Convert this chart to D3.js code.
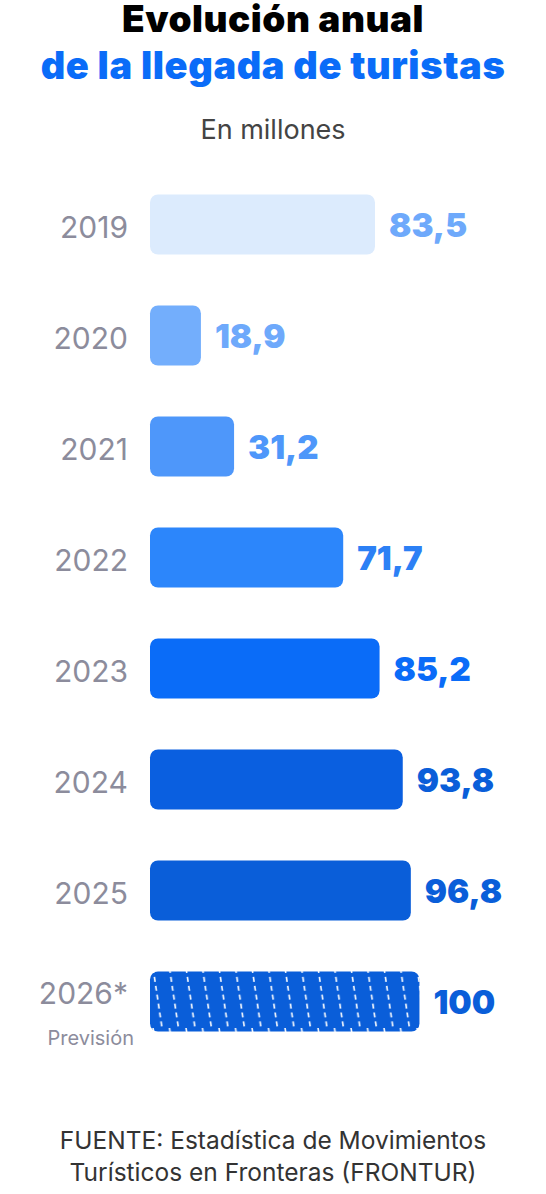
<!DOCTYPE html><html><head><meta charset="utf-8"><script src="https://cdn.jsdelivr.net/npm/d3@7"></script>
<style>body{margin:0;background:#fff}</style></head><body><svg id="c" width="546" height="1194"></svg>
<script>
const years=["2019","2020","2021","2022","2023","2024","2025","2026*"];
const values=[83.5,18.9,31.2,71.7,85.2,93.8,96.8,100];
const labels=["83,5","18,9","31,2","71,7","85,2","93,8","96,8","100"];
const barColors=["#dcebfd","#73aefc","#4e97fa","#2c86fb","#0a6cf8","#0a5fe0","#0a5ed9","#0a5ed9"];
const textColors=["#6ea9fb","#6ea9fb","#4e97fa","#2c80f5","#0a6cf8","#0a5ed9","#0a5ed9","#0a5ed9"];
const svg=d3.select("#c");
const F="Inter, Roboto, sans-serif";
const x=d3.scaleLinear().domain([0,83.5]).range([150,375]);
const y=d3.scaleBand().domain(years).range([169,1057]).paddingInner(0.46).paddingOuter(0.23);
const defs=svg.append("defs");
const p=defs.append("pattern").attr("id","hatch").attr("patternUnits","userSpaceOnUse").attr("width",16.5).attr("height",60).attr("patternTransform","translate(150,968)");
p.append("rect").attr("width",16.5).attr("height",60).attr("fill","#0a5ed9");
p.append("line").attr("x1",3).attr("y1",0).attr("x2",12).attr("y2",60).attr("stroke","#fff").attr("stroke-width",1.6).attr("stroke-dasharray","5,4");
svg.append("text").attr("x",273).attr("y",32).attr("text-anchor","middle").attr("font-family",F).attr("font-weight",900).attr("font-size",37).attr("letter-spacing",0.5).attr("fill","#000").text("Evolución anual");
svg.append("text").attr("x",273).attr("y",79).attr("text-anchor","middle").attr("font-family",F).attr("font-weight",900).attr("font-size",38).attr("letter-spacing",0.6).attr("fill","#0a6cf8").text("de la llegada de turistas");
svg.append("text").attr("x",273).attr("y",139).attr("text-anchor","middle").attr("font-family",F).attr("font-size",27).attr("fill","#444").text("En millones");
const g=svg.selectAll("g.r").data(years).enter().append("g");
g.append("rect").attr("x",x(0)).attr("y",d=>y(d)).attr("height",y.bandwidth()).attr("rx",8)
 .attr("width",(d,i)=>x(values[i])-x(0)).attr("fill",(d,i)=>i==7?"url(#hatch)":barColors[i]);
g.append("text").attr("x",(d,i)=>x(values[i])+14).attr("y",d=>y(d)+y.bandwidth()/2+12).attr("font-family",F).attr("font-weight",900).attr("font-size",33).attr("fill",(d,i)=>textColors[i]).text((d,i)=>labels[i]);
g.append("text").attr("x",128).attr("y",d=>y(d)+y.bandwidth()/2+(d=="2026*"?2:13)).attr("text-anchor","end").attr("font-family",F).attr("font-size",30).attr("fill","#8c8c9c").text(d=>d);
svg.append("text").attr("x",134).attr("y",y("2026*")+73).attr("text-anchor","end").attr("font-family",F).attr("font-size",20).attr("fill","#8c8c9c").text("Previsión");
svg.append("text").attr("x",273).attr("y",1149).attr("text-anchor","middle").attr("font-family",F).attr("font-size",24.5).attr("fill","#333").text("FUENTE: Estadística de Movimientos");
svg.append("text").attr("x",273).attr("y",1181).attr("text-anchor","middle").attr("font-family",F).attr("font-size",24.5).attr("fill","#333").text("Turísticos en Fronteras (FRONTUR)");
</script></body></html>
